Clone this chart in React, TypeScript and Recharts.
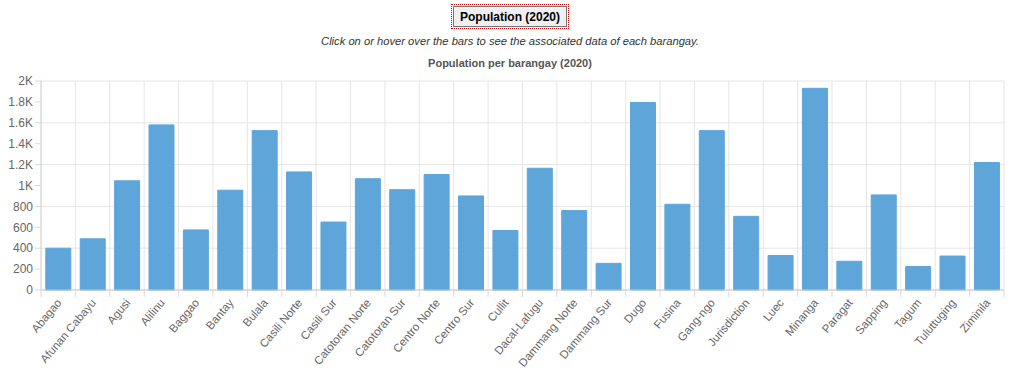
import React from "react";
import { BarChart, Bar, XAxis, YAxis, CartesianGrid } from "recharts";

const barangays = [
  "Abagao", "Afunan Cabayu", "Agusi", "Alilinu", "Baggao", "Bantay", "Bulala",
  "Casili Norte", "Casili Sur", "Catotoran Norte", "Catotoran Sur", "Centro Norte",
  "Centro Sur", "Cullit", "Dacal-Lafugu", "Dammang Norte", "Dammang Sur", "Dugo",
  "Fusina", "Gang-ngo", "Jurisdiction", "Luec", "Minanga", "Paragat", "Sapping",
  "Tagum", "Tuluttuging", "Ziminila",
];
const population = [
  400, 490, 1045, 1580, 575, 955, 1525, 1130, 650, 1065, 960, 1105, 900, 570,
  1165, 760, 255, 1795, 820, 1525, 705, 330, 1930, 275, 910, 225, 325, 1220,
];
const yTicks = [0, 200, 400, 600, 800, 1000, 1200, 1400, 1600, 1800, 2000];

const data = barangays.map((name, i) => ({ name, population: population[i] }));

const FONT = "'Liberation Sans', Arial, sans-serif";
const W = 1020;
const H = 299;
const M = { top: 9, right: 16, bottom: 0, left: 0 };
const Y_W = 41;

// chart.js style: gridlines & tick marks on category boundaries
const fmt = (v: number) => (v >= 1000 ? `${v / 1000}K` : `${v}`);

function XTick(props: any) {
  const { x, y, payload, index } = props;
  const step = (W - M.left - M.right - Y_W) / barangays.length;
  const bx = x - step / 2;
  return (
    <g>
      <line x1={bx} y1={y - 8} x2={bx} y2={y - 1} stroke="#d9d9d9" />
      {index === barangays.length - 1 && (
        <line x1={bx + step} y1={y - 8} x2={bx + step} y2={y - 1} stroke="#d9d9d9" />
      )}
      <text
        x={x + 4}
        y={y + 5}
        textAnchor="end"
        fontSize={11.5}
        fill="#666"
        fontFamily={FONT}
        transform={`rotate(-50 ${x + 4} ${y + 5})`}
      >
        {payload.value}
      </text>
    </g>
  );
}

export default function App() {
  return (
    <div style={{ position: "absolute", left: 0, top: 0, width: W, height: 371, background: "#fff", fontFamily: FONT }}>
      <div style={{ textAlign: "center", paddingTop: 6 }}>
        <button
          style={{
            fontFamily: FONT,
            fontWeight: "bold",
            fontSize: 12,
            background: "#efefef",
            border: "1px solid #767676",
            outline: "1px dotted #c00",
            outlineOffset: 1,
            padding: "3px 6px",
            height: 21,
          }}
        >
          Population (2020)
        </button>
      </div>
      <div style={{ textAlign: "center", fontStyle: "italic", fontSize: 11.2, color: "#333", marginTop: 8 }}>
        Click on or hover over the bars to see the associated data of each barangay.
      </div>
      <div style={{ textAlign: "center", fontWeight: "bold", fontSize: 11, color: "#555", marginTop: 10 }}>
        Population per barangay (2020)
      </div>
      <div style={{ position: "absolute", left: 0, top: 72 }}>
        <BarChart width={W} height={H} data={data} margin={M} barCategoryGap="14%">
          <CartesianGrid
            stroke="#e6e6e6"
            verticalCoordinatesGenerator={({ offset }: any) =>
              barangays.map((_, i) => offset.left + ((i + 1) * offset.width) / barangays.length)
            }
          />
          <XAxis
            dataKey="name"
            interval={0}
            height={H - M.top - 209}
            tick={<XTick />}
            tickLine={false}
            axisLine={{ stroke: "#c8c8c8" }}
          />
          <YAxis
            width={Y_W}
            domain={[0, 2000]}
            ticks={yTicks}
            tickFormatter={fmt}
            tick={{ fontSize: 12, fill: "#666", fontFamily: FONT }}
            tickLine={{ stroke: "#d9d9d9" }}
            tickSize={6}
            tickMargin={2}
            axisLine={{ stroke: "#c8c8c8" }}
          />
          <Bar dataKey="population" fill="#5ea5da" stroke="#5ea5da" isAnimationActive={false} />
        </BarChart>
      </div>
    </div>
  );
}
